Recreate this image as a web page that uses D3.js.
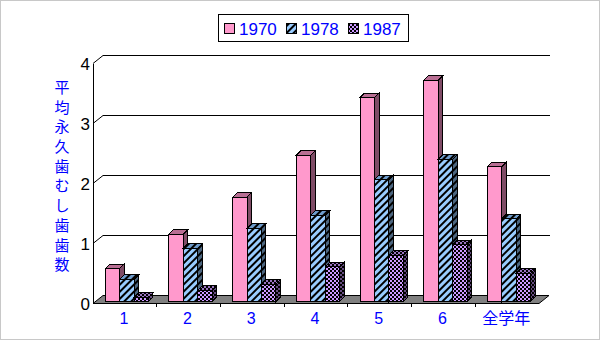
<!DOCTYPE html>
<html>
<head>
<meta charset="utf-8">
<script src="https://cdn.jsdelivr.net/npm/d3@7"></script>
<style>
  body { margin: 0; background: #fff; }
  svg { display: block; }
</style>
</head>
<body>
<div id="chart"></div>
<script>
// data
const categories = ['1', '2', '3', '4', '5', '6', '全学年'];
const seriesNames = ['1970', '1978', '1987'];
const v1970 = [0.55, 1.12, 1.74, 2.44, 3.40, 3.69, 2.25];
const v1978 = [0.37, 0.89, 1.22, 1.44, 2.03, 2.37, 1.38];
const v1987 = [0.07, 0.19, 0.29, 0.58, 0.77, 0.95, 0.47];
const yTicks = [0, 1, 2, 3, 4];
const yTitle = '平均永久歯むし歯歯数';

const w = 600;
const h = 340;

// oblique depth of the floor and of each bar
const depth = { x: 10, y: -8 };
const barOff = 2;
const barDepth = 4.5;

let svg = d3.select('#chart').append('svg')
    .attr('width', w)
    .attr('height', h);

svg.append('rect')
    .attr('x', 0.5).attr('y', 0.5)
    .attr('width', w - 1).attr('height', h - 1)
    .attr('fill', '#fff')
    .attr('stroke', '#c8c8c8');

//patterns
let defs = svg.append('defs');

function stripes(id, bg) {
  let p = defs.append('pattern')
      .attr('id', id)
      .attr('patternUnits', 'userSpaceOnUse')
      .attr('width', 5).attr('height', 5)
      .attr('patternTransform', 'rotate(45)');
  p.append('rect').attr('width', 5).attr('height', 5).attr('fill', bg);
  p.append('rect').attr('width', 2).attr('height', 5).attr('fill', '#000');
}

function checker(id, bg) {
  let p = defs.append('pattern')
      .attr('id', id)
      .attr('patternUnits', 'userSpaceOnUse')
      .attr('width', 4).attr('height', 4);
  p.append('rect').attr('width', 4).attr('height', 4).attr('fill', bg);
  p.append('rect').attr('width', 2).attr('height', 2).attr('fill', '#000');
  p.append('rect').attr('x', 2).attr('y', 2).attr('width', 2).attr('height', 2).attr('fill', '#000');
}

stripes('blueFront', '#99ccff');
stripes('blueTop', '#6f9ccc');
stripes('blueSide', '#4c6680');
checker('purpFront', '#cc99ff');
checker('purpTop', '#9973bf');
checker('purpSide', '#664c80');

let fills = {
  '1970': { front: '#ff99cc', top: '#b86e93', side: '#7f4c66' },
  '1978': { front: 'url(#blueFront)', top: 'url(#blueTop)', side: 'url(#blueSide)' },
  '1987': { front: 'url(#purpFront)', top: 'url(#purpTop)', side: 'url(#purpSide)' }
};

//scales
const x = d3.scaleBand()
    .domain(categories)
    .range([93, 539])
    .padding(0);

const xs = d3.scaleBand()
    .domain(seriesNames)
    .range([0, x.bandwidth()])
    .paddingInner(0)
    .paddingOuter(0.71);

const y = d3.scaleLinear()
    .domain([0, 4])
    .range([303.5, 63.5]);

let plot = svg.append('g').attr('shape-rendering', 'crispEdges');

// back wall gridlines + diagonal ticks
yTicks.filter(t => t > 0).forEach(function(t) {
  plot.append('line')
      .attr('x1', x.range()[0] + depth.x).attr('x2', x.range()[1] + depth.x + 1)
      .attr('y1', y(t) + depth.y).attr('y2', y(t) + depth.y)
      .attr('stroke', '#000');
  plot.append('line')
      .attr('x1', x.range()[0]).attr('y1', y(t))
      .attr('x2', x.range()[0] + depth.x).attr('y2', y(t) + depth.y)
      .attr('stroke', '#000')
      .attr('shape-rendering', 'auto');
});

// floor
let x0 = x.range()[0], x1 = x.range()[1], yb = y(0);
plot.append('polygon')
    .attr('points', [[x0, yb], [x1, yb], [x1 + depth.x, yb + depth.y], [x0 + depth.x, yb + depth.y]].join(' '))
    .attr('fill', '#808080')
    .attr('stroke', '#000')
    .attr('shape-rendering', 'auto');

// bars
let seriesValues = { '1970': v1970, '1978': v1978, '1987': v1987 };
let barData = [];
for (let i = 0; i < categories.length; i++) {
  for (let j = 0; j < seriesNames.length; j++) {
    barData.push({ cat: categories[i], s: seriesNames[j], v: seriesValues[seriesNames[j]][i] });
  }
}

let bars = plot.selectAll('.bar')
  .data(barData)
  .enter()
  .append('g')
    .classed('bar', true);

bars.each(function(d) {
  let g = d3.select(this);
  let bx = x(d.cat) + xs(d.s) + barOff;
  let bw = xs.bandwidth();
  let top = y(d.v) - barOff;
  let bot = y(0) - barOff;
  let dd = barDepth;
  g.append('polygon')
      .attr('points', [[bx + bw, top], [bx + bw + dd, top - dd], [bx + bw + dd, bot - dd], [bx + bw, bot]].join(' '))
      .attr('fill', fills[d.s].side)
      .attr('stroke', '#000');
  g.append('polygon')
      .attr('points', [[bx, top], [bx + bw, top], [bx + bw + dd, top - dd], [bx + dd, top - dd]].join(' '))
      .attr('fill', fills[d.s].top)
      .attr('stroke', '#000');
  g.append('rect')
      .attr('x', bx).attr('y', top)
      .attr('width', bw).attr('height', bot - top)
      .attr('fill', fills[d.s].front)
      .attr('stroke', '#000');
});

// front axes
plot.append('line')
    .attr('x1', x0).attr('x2', x0)
    .attr('y1', y(4)).attr('y2', y(0))
    .attr('stroke', '#000');
plot.append('line')
    .attr('x1', x0).attr('x2', x1)
    .attr('y1', y(0)).attr('y2', y(0))
    .attr('stroke', '#000');

// category ticks
categories.forEach(function(c, i) {
  if (i == 0) return;
  plot.append('line')
      .attr('x1', x(c)).attr('x2', x(c))
      .attr('y1', y(0)).attr('y2', y(0) + 3)
      .attr('stroke', '#000');
});

// y labels
svg.selectAll('.ylab')
  .data(yTicks)
  .enter()
  .append('text')
    .attr('x', 90)
    .attr('y', d => y(d))
    .attr('dy', '0.36em')
    .attr('text-anchor', 'end')
    .attr('font-family', 'Liberation Sans, Arial, sans-serif')
    .attr('font-size', 17)
    .attr('fill', '#000')
    .text(d => d);

// x labels
svg.selectAll('.xlab')
  .data(categories)
  .enter()
  .append('text')
    .attr('x', d => x(d) + x.bandwidth() / 2 - 1)
    .attr('y', 324)
    .attr('text-anchor', 'middle')
    .attr('font-family', 'Liberation Sans, "Noto Sans CJK JP", sans-serif')
    .attr('font-size', 16)
    .attr('fill', '#0000ff')
    .text(d => d);

// vertical y title
svg.selectAll('.ytitle')
  .data(yTitle.split(''))
  .enter()
  .append('text')
    .attr('x', 62)
    .attr('y', (d, i) => 87.5 + i * 19.7)
    .attr('dy', '0.36em')
    .attr('text-anchor', 'middle')
    .attr('font-family', '"Noto Sans CJK JP", sans-serif')
    .attr('font-size', 15)
    .attr('fill', '#0000ff')
    .text(d => d);

// legend
let legend = svg.append('g');
legend.append('rect')
    .attr('x', 218.5).attr('y', 14.5)
    .attr('width', 190).attr('height', 27)
    .attr('fill', '#fff')
    .attr('stroke', '#000');

seriesNames.forEach(function(s, i) {
  let lx = 224 + i * 62;
  legend.append('rect')
      .attr('x', lx + 0.5).attr('y', 23.5)
      .attr('width', 10).attr('height', 10)
      .attr('fill', fills[s].front)
      .attr('stroke', '#000')
      .attr('shape-rendering', 'crispEdges');
  legend.append('text')
      .attr('x', lx + 15)
      .attr('y', 35)
      .attr('font-family', 'Liberation Sans, Arial, sans-serif')
      .attr('font-size', 17)
      .attr('fill', '#0000ff')
      .text(s);
});
</script>
</body>
</html>
